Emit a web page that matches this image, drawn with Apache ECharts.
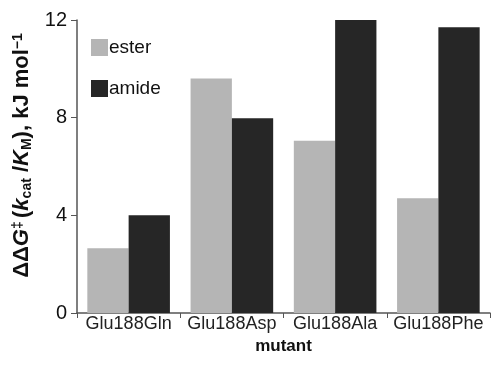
<!DOCTYPE html>
<html>
<head>
<meta charset="utf-8">
<script src="https://cdn.jsdelivr.net/npm/echarts@6/dist/echarts.min.js"></script>
<style>
  html, body { margin: 0; padding: 0; background: #fff; }
  #chart { width: 497px; height: 369px; }
</style>
</head>
<body>
<div id="chart"></div>
<script>
const mutants = ["Glu188Gln", "Glu188Asp", "Glu188Ala", "Glu188Phe"];
const esterData = [2.65, 9.6, 7.05, 4.7];
const amideData = [4.0, 7.98, 12.0, 11.7];
const yTicks = [0, 4, 8, 12];

const myChart = echarts.init(document.getElementById("chart"));

const option = {
  animation: false,
  textStyle: { fontFamily: "Liberation Sans, Arial, sans-serif" },
  grid: {
    left: 77,
    right: 7,
    top: 20,
    bottom: 56,
  },
  legend: {
    orient: "vertical",
    left: 86,
    top: 33,
    itemWidth: 17,
    itemHeight: 17,
    itemGap: 22,
    icon: "rect",
    textStyle: { fontSize: 19, color: "#111", padding: [0, 0, 0, -4] },
    data: ["ester", "amide"],
  },
  xAxis: {
    type: "category",
    data: mutants,
    name: "mutant",
    nameLocation: "middle",
    nameGap: 15,
    nameTextStyle: { fontSize: 17, fontWeight: "bold", color: "#111", verticalAlign: "top" },
    axisLine: { lineStyle: { color: "#555", width: 1.5 } },
    axisTick: { show: true, length: 5, lineStyle: { color: "#555" } },
    axisLabel: { fontSize: 18, color: "#222", margin: 2, interval: 0, hideOverlap: false },
  },
  yAxis: {
    type: "value",
    min: 0,
    max: 12,
    interval: 4,
    name: "{b|ΔΔ}{bi|G}{sup|‡} {b|(}{bi|k}{sub|cat}{b| /}{bi|K}{sub|M}{b|), kJ mol}{sup|−1}",
    nameLocation: "middle",
    nameRotate: 90,
    nameGap: 32,
    nameTextStyle: {
      padding: [0, 0, 0, 22],
      rich: {
        b: { fontSize: 22, fontWeight: "bold", color: "#111" },
        bi: { fontSize: 22, fontWeight: "bold", fontStyle: "italic", color: "#111" },
        sup: { fontSize: 14, fontWeight: "bold", color: "#111", verticalAlign: "top", padding: [0, 0, 9, 0] },
        sub: { fontSize: 14, fontWeight: "bold", color: "#111", verticalAlign: "bottom", padding: [9, 0, 0, 0] },
      },
    },
    axisLine: { show: true, lineStyle: { color: "#555", width: 1.5 } },
    axisTick: { show: true, length: 6, lineStyle: { color: "#555" } },
    axisLabel: {
      fontSize: 20,
      color: "#111",
      margin: 10,
      formatter: (v) => (yTicks.includes(v) ? String(v) : ""),
    },
    splitLine: { show: false },
  },
  series: [
    {
      name: "ester",
      type: "bar",
      data: esterData,
      barGap: "0%",
      barCategoryGap: "20%",
      itemStyle: { color: "#b5b5b5" },
    },
    {
      name: "amide",
      type: "bar",
      data: amideData,
      barGap: "0%",
      barCategoryGap: "20%",
      itemStyle: { color: "#262626" },
    },
  ],
};
myChart.setOption(option);
</script>
</body>
</html>
